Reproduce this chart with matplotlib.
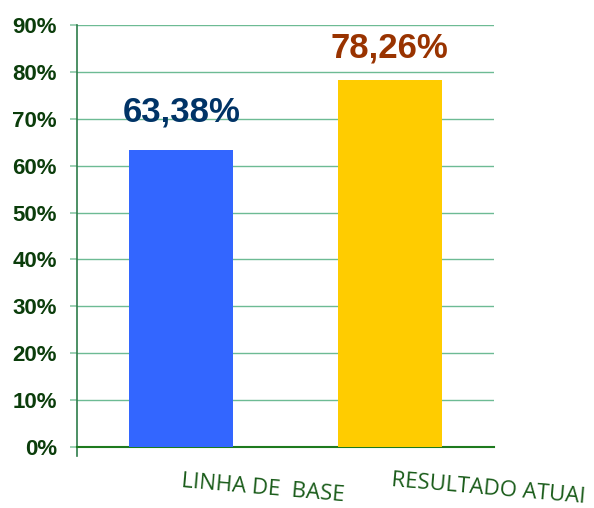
import numpy as np
import matplotlib.pyplot as plt

categories = ['LINHA DE  BASE', 'RESULTADO ATUAI']
values = [63.38, 78.26]
value_labels = ['63,38%', '78,26%']
bar_colors = ['#3366FF', '#FFCC00']
label_colors = ['#003366', '#993300']
yticks = [0, 10, 20, 30, 40, 50, 60, 70, 80, 90]

fig = plt.figure(figsize=(5.94, 5.08), dpi=100)
ax = fig.add_axes([77/594, 1-447/508, 417/594, 422/508])

x = np.arange(len(categories))
ax.bar(x, values, width=0.5, color=bar_colors, zorder=3)

ax.set_xlim(-0.5, 1.5)
ax.set_ylim(0, 90)
ax.set_yticks(yticks)
ax.set_yticklabels([f'{t}%' for t in yticks], fontsize=16, fontweight='bold',
                   color='#0B3D0B', family='Liberation Sans')
ax.tick_params(axis='y', length=5, width=1.2, color='#8CC8A8', pad=9.4)
ax.yaxis.grid(True, color='#6DBB94', linewidth=1, zorder=0)

ax.set_xticks([])
label_shift = [0.39, 0.475]
for i, cat in enumerate(categories):
    ax.text(x[i] + label_shift[i], -8.9, cat, ha='center', va='center', rotation=-5,
            fontsize=16, color='#1A5C1A', family='Open Sans')

offsets = [8.1, 6.8]
for i, (v, lab) in enumerate(zip(values, value_labels)):
    ax.text(x[i], v + offsets[i], lab, ha='center', va='center', fontsize=25,
            fontweight='bold', color=label_colors[i], family='Liberation Sans')

for s in ['top', 'right']:
    ax.spines[s].set_visible(False)
ax.spines['bottom'].set_color('#1E7A1E')
ax.spines['bottom'].set_linewidth(1.5)
ax.spines['left'].set_color('#2E7D4A')
ax.spines['left'].set_linewidth(1.2)
ax.spines['left'].set_bounds(-1.9, 90)
ax.spines['left'].set_clip_on(False)

fig.savefig('out.png', dpi=100)
